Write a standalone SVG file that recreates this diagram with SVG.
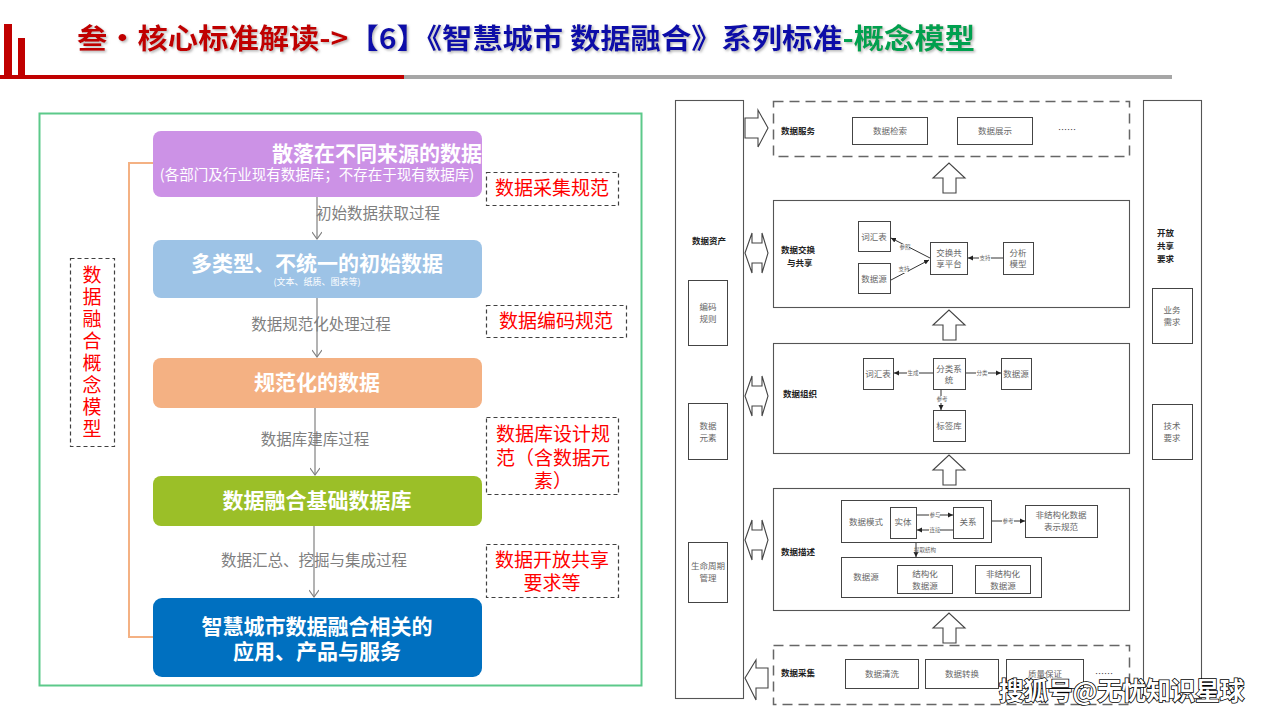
<svg xmlns="http://www.w3.org/2000/svg" width="1280" height="720" viewBox="0 0 1280 720">
<defs>
<style>
.cjk{font-family:"Liberation Sans","Noto Sans CJK SC",sans-serif}
.bw{fill:#fff;font-weight:bold;font-family:"Noto Sans CJK SC",sans-serif}
.lbl{fill:#7f7f7f;font-size:15.5px;font-family:"Noto Sans CJK SC",sans-serif}
.red{fill:#ff0000;font-size:19px;font-family:"Noto Sans CJK SC",sans-serif}
.dash{fill:none;stroke:#404040;stroke-width:1.2;stroke-dasharray:4 3}
.flow{stroke:#808080;stroke-width:1.2;fill:none}
.rp{fill:#fff;stroke:#555;stroke-width:1.1}
.rpd{fill:none;stroke:#666;stroke-width:1.5;stroke-dasharray:10 6}
.ib{fill:#fff;stroke:#444;stroke-width:1}
.it{fill:#666;font-size:8.5px;font-family:"Noto Sans CJK SC",sans-serif;text-anchor:middle}
.bt{fill:#222;font-size:8.5px;font-weight:bold;font-family:"Noto Sans CJK SC",sans-serif}
.sm{fill:#666;font-size:5.5px;font-family:"Noto Sans CJK SC",sans-serif;text-anchor:middle}
.ar{fill:#fff;stroke:#444;stroke-width:1.1}
.ln{stroke:#333;stroke-width:1;fill:none}
</style>
<marker id="vopen" markerWidth="10" markerHeight="10" refX="8" refY="5" orient="auto" markerUnits="userSpaceOnUse">
<path d="M1,0 L8,5 L1,10" fill="none" stroke="#808080" stroke-width="1.2"/>
</marker>
<marker id="tri" markerWidth="6" markerHeight="6" refX="5" refY="3" orient="auto" markerUnits="userSpaceOnUse">
<path d="M0,0.5 L5,3 L0,5.5 Z" fill="#222"/>
</marker>
<filter id="sh" x="-5%" y="-20%" width="110%" height="140%">
<feDropShadow dx="1.5" dy="1.5" stdDeviation="1" flood-color="#999" flood-opacity="0.7"/>
</filter>
<clipPath id="c1"><rect x="153" y="131" width="329" height="66" rx="8"/></clipPath>
</defs>

<rect width="1280" height="720" fill="#fff"/>

<!-- header -->
<g id="header">
<rect x="4" y="24" width="8" height="53" fill="#c00000"/>
<rect x="18" y="38" width="7" height="39" fill="#c00000"/>
<rect x="0" y="75" width="404" height="4" fill="#c00000"/>
<rect x="404" y="75" width="768" height="4" fill="#a6a6a6"/>
<text x="77" y="49" font-size="28" font-weight="bold" font-family="Noto Sans CJK SC, sans-serif" filter="url(#sh)" textLength="898" lengthAdjust="spacingAndGlyphs"><tspan fill="#c00000">叁·核心标准解读-&gt;</tspan><tspan fill="#0a0aa8">【6】《智慧城市 数据融合》系列标准</tspan><tspan fill="#00a050">-概念模型</tspan></text>
</g>

<!-- left panel -->
<g id="left-frame">
<rect x="39.5" y="113.5" width="602" height="572" fill="none" stroke="#5cc98a" stroke-width="2"/>
<polyline points="153,163 129,163 129,637 153,637" fill="none" stroke="#f4b183" stroke-width="2"/>
</g>

<g id="connectors">
<line class="flow" x1="317" y1="197" x2="317" y2="239" marker-end="url(#vopen)"/>
<line class="flow" x1="317" y1="298" x2="317" y2="357" marker-end="url(#vopen)"/>
<line class="flow" x1="315" y1="408" x2="315" y2="475" marker-end="url(#vopen)"/>
<line class="flow" x1="314" y1="526" x2="314" y2="597" marker-end="url(#vopen)"/>
<text class="lbl" x="316" y="219">初始数据获取过程</text>
<text class="lbl" x="321" y="330" text-anchor="middle">数据规范化处理过程</text>
<text class="lbl" x="315" y="445" text-anchor="middle">数据库建库过程</text>
<text class="lbl" x="314" y="566" text-anchor="middle">数据汇总、挖掘与集成过程</text>
</g>

<g id="n1">
<rect x="153" y="131" width="329" height="66" rx="8" fill="#cc92e6"/>
<g clip-path="url(#c1)"><text class="bw" x="272" y="161" font-size="21">散落在不同来源的数据</text></g>
<text x="317" y="180" font-size="14.5" fill="#fff" text-anchor="middle" font-family="Noto Sans CJK SC, sans-serif">(各部门及行业现有数据库；不存在于现有数据库)</text>
</g>
<g id="n2">
<rect x="153" y="240" width="329" height="58" rx="8" fill="#9dc3e6"/>
<text class="bw" x="317" y="271" font-size="21" text-anchor="middle">多类型、不统一的初始数据</text>
<text x="317" y="285" font-size="9" fill="#fff" text-anchor="middle" font-family="Noto Sans CJK SC, sans-serif">(文本、纸质、图表等)</text>
</g>
<g id="n3">
<rect x="153" y="358" width="329" height="50" rx="8" fill="#f4b183"/>
<text class="bw" x="317" y="390" font-size="21" text-anchor="middle">规范化的数据</text>
</g>
<g id="n4">
<rect x="153" y="476" width="329" height="50" rx="8" fill="#9bbf28"/>
<text class="bw" x="317" y="508" font-size="21" text-anchor="middle">数据融合基础数据库</text>
</g>
<g id="n5">
<rect x="153" y="598" width="329" height="79" rx="9" fill="#0070c0"/>
<text class="bw" x="317" y="634" font-size="21" text-anchor="middle">智慧城市数据融合相关的</text>
<text class="bw" x="317" y="659" font-size="21" text-anchor="middle">应用、产品与服务</text>
</g>

<g id="model-label">
<rect class="dash" x="70.5" y="258.5" width="44" height="188"/>
<text class="red" x="92" y="282" font-size="20" text-anchor="middle">数</text>
<text class="red" x="92" y="304" font-size="20" text-anchor="middle">据</text>
<text class="red" x="92" y="326" font-size="20" text-anchor="middle">融</text>
<text class="red" x="92" y="348" font-size="20" text-anchor="middle">合</text>
<text class="red" x="92" y="370" font-size="20" text-anchor="middle">概</text>
<text class="red" x="92" y="392" font-size="20" text-anchor="middle">念</text>
<text class="red" x="92" y="414" font-size="20" text-anchor="middle">模</text>
<text class="red" x="92" y="436" font-size="20" text-anchor="middle">型</text>
</g>
<g id="spec1">
<rect class="dash" x="486.5" y="172.5" width="132" height="33"/>
<text class="red" x="552" y="195" text-anchor="middle">数据采集规范</text>
</g>
<g id="spec2">
<rect class="dash" x="486.5" y="305.5" width="140" height="32"/>
<text class="red" x="556" y="328" text-anchor="middle">数据编码规范</text>
</g>
<g id="spec3">
<rect class="dash" x="486.5" y="417.5" width="132" height="77"/>
<text class="red" x="553" y="441" text-anchor="middle">数据库设计规</text>
<text class="red" x="553" y="465" text-anchor="middle">范（含数据元</text>
<text class="red" x="553" y="488" text-anchor="middle">素）</text>
</g>
<g id="spec4">
<rect class="dash" x="486.5" y="544.5" width="132" height="53"/>
<text class="red" x="552" y="567" text-anchor="middle">数据开放共享</text>
<text class="red" x="552" y="590" text-anchor="middle">要求等</text>
</g>

<!-- right panel -->
<g id="asset-col">
<rect class="rp" x="675.5" y="100.5" width="68" height="598"/>
<text class="bt" x="692" y="244">数据资产</text>
<rect class="ib" x="688.5" y="280.5" width="39" height="65"/>
<text class="it" x="708" y="310">编码</text><text class="it" x="708" y="322">规则</text>
<rect class="ib" x="688.5" y="403.5" width="39" height="56"/>
<text class="it" x="708" y="429">数据</text><text class="it" x="708" y="441">元素</text>
<rect class="ib" x="688.5" y="542.5" width="39" height="60"/>
<text class="it" x="708" y="569">生命周期</text><text class="it" x="708" y="581">管理</text>
</g>
<g id="share-col">
<rect class="rp" x="1143.5" y="100.5" width="58" height="598"/>
<text class="bt" x="1157" y="236" font-size="10">开放</text>
<text class="bt" x="1157" y="249" font-size="10">共享</text>
<text class="bt" x="1157" y="262" font-size="10">要求</text>
<rect class="ib" x="1152.5" y="288.5" width="40" height="55"/>
<text class="it" x="1172" y="313">业务</text><text class="it" x="1172" y="325">需求</text>
<rect class="ib" x="1152.5" y="404.5" width="40" height="55"/>
<text class="it" x="1172" y="429">技术</text><text class="it" x="1172" y="441">要求</text>
</g>

<g id="service">
<rect class="rpd" x="773.5" y="101.5" width="356" height="55"/>
<text class="bt" x="781" y="134">数据服务</text>
<rect class="ib" x="852.5" y="117.5" width="75" height="27"/>
<text class="it" x="890" y="134">数据检索</text>
<rect class="ib" x="957.5" y="117.5" width="75" height="27"/>
<text class="it" x="995" y="134">数据展示</text>
<text x="1058" y="133" font-size="9" fill="#333" font-family="Noto Sans CJK SC, sans-serif">……</text>
</g>

<g id="exchange">
<rect class="rp" x="773.5" y="200.5" width="356" height="107"/>
<text class="bt" x="781" y="253">数据交换</text>
<text class="bt" x="787" y="266">与共享</text>
<rect class="ib" x="858.5" y="221.5" width="32" height="30"/>
<text class="it" x="874" y="240">词汇表</text>
<rect class="ib" x="858.5" y="263.5" width="32" height="30"/>
<text class="it" x="874" y="282">数据源</text>
<rect class="ib" x="930.5" y="242.5" width="37" height="32"/>
<text class="it" x="949" y="256">交换共</text><text class="it" x="949" y="267">享平台</text>
<rect class="ib" x="1003.5" y="242.5" width="30" height="32"/>
<text class="it" x="1018" y="256">分析</text><text class="it" x="1018" y="267">模型</text>
</g>

<g id="organize">
<rect class="rp" x="773.5" y="343.5" width="356" height="110"/>
<text class="bt" x="783" y="397">数据组织</text>
<rect class="ib" x="863.5" y="358.5" width="30" height="31"/>
<text class="it" x="878" y="377">词汇表</text>
<rect class="ib" x="933.5" y="358.5" width="32" height="31"/>
<text class="it" x="949" y="372">分类系</text><text class="it" x="949" y="383">统</text>
<rect class="ib" x="1001.5" y="358.5" width="30" height="31"/>
<text class="it" x="1016" y="377">数据源</text>
<rect class="ib" x="933.5" y="410.5" width="32" height="31"/>
<text class="it" x="949" y="429">标签库</text>
</g>

<g id="describe">
<rect class="rp" x="773.5" y="488.5" width="356" height="122"/>
<text class="bt" x="781" y="555">数据描述</text>
<rect class="ib" x="841.5" y="500.5" width="150" height="42"/>
<text class="it" x="866" y="525">数据模式</text>
<rect class="ib" x="890.5" y="507.5" width="26" height="31"/>
<text class="it" x="903" y="525">实体</text>
<rect class="ib" x="953.5" y="507.5" width="30" height="31"/>
<text class="it" x="968" y="525">关系</text>
<rect class="ib" x="1025.5" y="505.5" width="72" height="32"/>
<text class="it" x="1061" y="518">非结构化数据</text><text class="it" x="1061" y="530">表示规范</text>
<rect class="ib" x="841.5" y="557.5" width="200" height="40"/>
<text class="it" x="866" y="580">数据源</text>
<rect class="ib" x="897.5" y="565.5" width="55" height="28"/>
<text class="it" x="925" y="577">结构化</text><text class="it" x="925" y="589">数据源</text>
<rect class="ib" x="975.5" y="565.5" width="55" height="28"/>
<text class="it" x="1003" y="577">非结构化</text><text class="it" x="1003" y="589">数据源</text>
</g>

<g id="collect">
<rect class="rpd" x="773.5" y="645.5" width="356" height="59"/>
<text class="bt" x="781" y="676">数据采集</text>
<rect class="ib" x="845.5" y="659.5" width="73" height="29"/>
<text class="it" x="882" y="677">数据清洗</text>
<rect class="ib" x="925.5" y="659.5" width="73" height="29"/>
<text class="it" x="962" y="677">数据转换</text>
<rect class="ib" x="1006.5" y="659.5" width="77" height="29"/>
<text class="it" x="1045" y="677">质量保证</text>
<text x="1095" y="677" font-size="9" fill="#333" font-family="Noto Sans CJK SC, sans-serif">……</text>
</g>

<g id="right-connectors">
<!-- block arrows -->
<polygon class="ar" points="745,118 758,118 758,110 768,128 758,147 758,138 745,138"/>
<polygon class="ar" points="745,253 752,233 752,243 762,243 762,233 768,253 762,273 762,263 752,263 752,273"/>
<polygon class="ar" points="745,396 752,376 752,386 762,386 762,376 768,396 762,416 762,406 752,406 752,416"/>
<polygon class="ar" points="745,540 752,520 752,530 762,530 762,520 768,540 762,560 762,550 752,550 752,560"/>
<polygon class="ar" points="745,678 756,660 756,668 768,668 768,688 756,688 756,700"/>
<polygon class="ar" points="943,193 943,178 933,178 949,163 965,178 956,178 956,193"/>
<polygon class="ar" points="943,340 943,325 933,325 949,310 965,325 956,325 956,340"/>
<polygon class="ar" points="943,485 943,470 933,470 949,455 965,470 956,470 956,485"/>
<polygon class="ar" points="943,643 943,628 933,628 949,613 965,628 956,628 956,643"/>
<!-- exchange -->
<line class="ln" x1="930" y1="258" x2="891" y2="238" marker-end="url(#tri)"/>
<line class="ln" x1="891" y1="280" x2="929" y2="260" marker-end="url(#tri)"/>
<line class="ln" x1="1003" y1="258" x2="968" y2="258" marker-end="url(#tri)"/>
<rect x="899" y="244" width="10" height="7" fill="#fff"/><text class="sm" x="905" y="249">参照</text>
<rect x="898" y="266" width="10" height="7" fill="#fff"/><text class="sm" x="904" y="271">支持</text>
<rect x="979" y="255" width="12" height="7" fill="#fff"/><text class="sm" x="985" y="260">支持</text>
<!-- organize -->
<line class="ln" x1="933" y1="373" x2="894" y2="373" marker-end="url(#tri)"/>
<line class="ln" x1="966" y1="373" x2="1001" y2="373" marker-end="url(#tri)"/>
<line class="ln" x1="941" y1="390" x2="941" y2="410" marker-end="url(#tri)"/>
<rect x="907" y="370" width="12" height="7" fill="#fff"/><text class="sm" x="913" y="375">生成</text>
<rect x="976" y="370" width="12" height="7" fill="#fff"/><text class="sm" x="982" y="375">分类</text>
<rect x="937" y="396" width="10" height="7" fill="#fff"/><text class="sm" x="942" y="401">参考</text>
<!-- describe -->
<line class="ln" x1="917" y1="515" x2="953" y2="515" marker-end="url(#tri)"/>
<line class="ln" x1="953" y1="530" x2="917" y2="530" marker-end="url(#tri)"/>
<line class="ln" x1="992" y1="521" x2="1025" y2="521" marker-end="url(#tri)"/>
<line class="ln" x1="916" y1="543" x2="916" y2="557" marker-end="url(#tri)"/>
<rect x="929" y="512" width="11" height="7" fill="#fff"/><text class="sm" x="935" y="517">参与</text>
<rect x="929" y="527" width="11" height="7" fill="#fff"/><text class="sm" x="935" y="532">连接</text>
<rect x="1002" y="518" width="12" height="7" fill="#fff"/><text class="sm" x="1008" y="523">参考</text>
<text class="sm" x="925" y="552">提取结构</text>
</g>

<text x="999" y="700" font-size="24.5" font-weight="bold" fill="#fff" stroke="#000" stroke-width="1.6" paint-order="stroke" font-family="Noto Sans CJK SC, sans-serif">搜狐号@无忧知识星球</text>
</svg>
